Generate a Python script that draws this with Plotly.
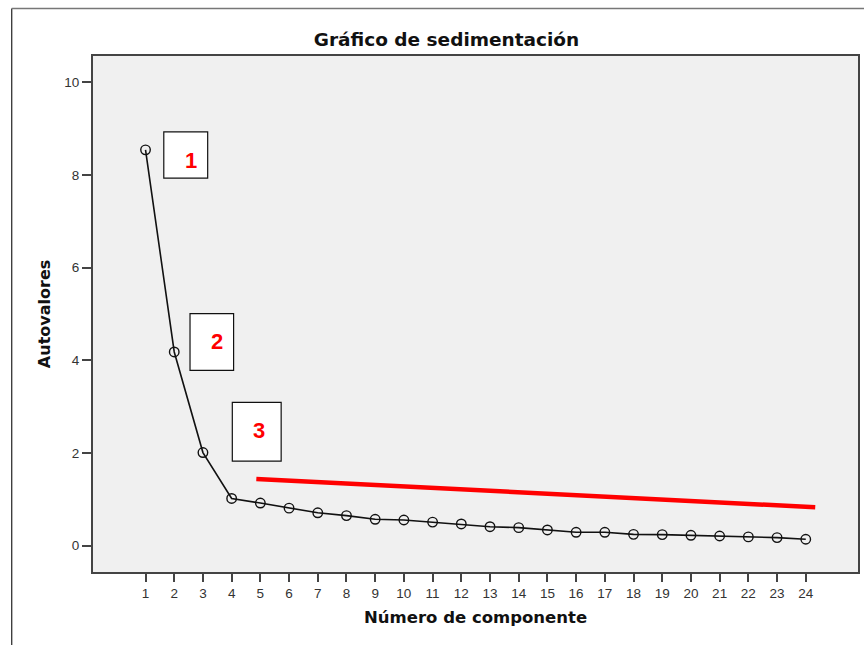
import plotly.graph_objects as go

components = list(range(1, 25))
eigenvalues = [8.54, 4.18, 2.01, 1.02, 0.92, 0.81, 0.71, 0.65, 0.57, 0.555,
               0.51, 0.47, 0.41, 0.39, 0.34, 0.29, 0.29, 0.245, 0.24, 0.225,
               0.21, 0.19, 0.175, 0.14]

# red reference line (start / end)
red_x = [4.86, 24.33]
red_y = [1.44, 0.83]

# numbered boxes: label, x0, x1, y0, y1, text x, text y (data units)
box_labels = ["1", "2", "3"]
box_x0 = [1.636, 2.55, 4.023]
box_x1 = [3.165, 4.068, 5.725]
box_y0 = [7.93, 3.784, 1.827]
box_y1 = [8.93, 5.005, 3.094]
text_x = [2.574, 3.488, 4.947]
text_y = [8.32, 4.40, 2.48]

TITLE = "Gráfico de sedimentación"
XTITLE = "Número de componente"
YTITLE = "Autovalores"

W, H = 864, 645
L, R, T, B = 93, 4, 56, 73
PW, PH = W - L - R, H - T - B

fig = go.Figure()

fig.add_trace(go.Scatter(
    x=components, y=eigenvalues, mode="lines+markers",
    line=dict(color="#111111", width=1.6),
    marker=dict(symbol="circle-open", size=9.5, color="#111111", line=dict(width=1.4)),
    showlegend=False, hoverinfo="x+y"))

fig.add_trace(go.Scatter(
    x=red_x, y=red_y, mode="lines",
    line=dict(color="#ff0000", width=4.5),
    showlegend=False, hoverinfo="skip"))

shapes = []
annotations = []
for lab, x0, x1, y0, y1, tx, ty in zip(box_labels, box_x0, box_x1, box_y0, box_y1, text_x, text_y):
    shapes.append(dict(type="rect", xref="x", yref="y", x0=x0, x1=x1, y0=y0, y1=y1,
                       fillcolor="white", line=dict(color="#111111", width=1.2), layer="above"))
    annotations.append(dict(x=tx, y=ty, xref="x", yref="y", text="<b>%s</b>" % lab,
                            showarrow=False,
                            font=dict(family="Liberation Sans, Arial", size=22, color="#ff0000")))

# outer frame lines (left and top)
fx = (11.5 - L) / PW
fy = (H - B - 8.5) / PH
shapes.append(dict(type="line", xref="paper", yref="paper", x0=fx, x1=fx,
                   y0=-0.2, y1=fy, line=dict(color="#333333", width=1.3)))
shapes.append(dict(type="line", xref="paper", yref="paper", x0=fx, x1=1.1,
                   y0=fy, y1=fy, line=dict(color="#777777", width=1.5)))

# axis titles as annotations
annotations.append(dict(x=0.5, y=(H - B - 617) / PH, xref="paper", yref="paper",
                        xanchor="center", yanchor="middle", showarrow=False,
                        text="<b>%s</b>" % XTITLE,
                        font=dict(family="DejaVu Sans", size=16.5, color="#111111")))
annotations.append(dict(x=(44 - L) / PW, y=0.5, xref="paper", yref="paper",
                        xanchor="center", yanchor="middle", showarrow=False, textangle=-90,
                        text="<b>%s</b>" % YTITLE,
                        font=dict(family="DejaVu Sans", size=16, color="#111111")))

tickfont = dict(family="Liberation Sans, Arial", size=13.5, color="#333333")

fig.update_layout(
    width=W, height=H,
    margin=dict(l=L, r=R, t=T, b=B),
    paper_bgcolor="white", plot_bgcolor="#f0f0f0",
    title=dict(text="<b>%s</b>" % TITLE, x=446.5 / W, xanchor="center",
               y=1 - 40 / H, yanchor="middle",
               font=dict(family="DejaVu Sans", size=18.5, color="#111111")),
    xaxis=dict(range=[-0.83, 25.82], tickmode="array", tickvals=components,
               ticktext=[str(c) for c in components], showgrid=False, zeroline=False,
               showline=True, linecolor="#444444", linewidth=2, mirror=True,
               ticks="outside", ticklen=8, tickwidth=1.5, tickcolor="#444444",
               tickfont=tickfont),
    yaxis=dict(range=[-0.567, 10.565], tickvals=[0, 2, 4, 6, 8, 10], showgrid=False,
               zeroline=False, showline=True, linecolor="#444444", linewidth=2, mirror=True,
               ticks="outside", ticklen=9, tickwidth=1.5, tickcolor="#444444",
               tickfont=tickfont),
    shapes=shapes, annotations=annotations,
)

fig.write_html("out.html", config={"displayModeBar": False},
               post_script="document.body.style.margin='0';document.body.style.overflow='hidden';")
